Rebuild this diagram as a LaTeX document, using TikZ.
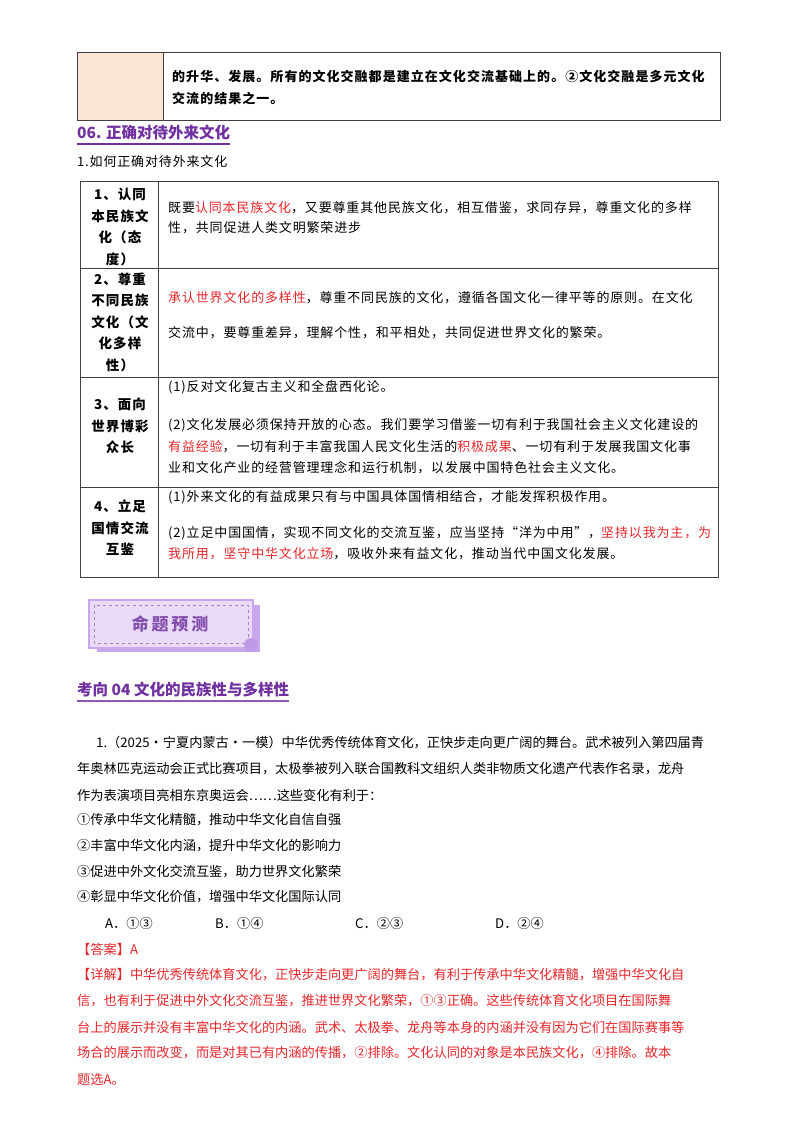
\documentclass[tikz,border=0pt]{standalone}
\usepackage{fontspec}
\setmainfont{Noto Sans CJK SC}
\usepackage{xcolor}
\definecolor{pur}{HTML}{7030A0}
\definecolor{rd}{HTML}{E8262A}
\definecolor{peach}{HTML}{FCE4D6}
\definecolor{lav}{HTML}{C9A6EE}
\begin{document}
\begin{tikzpicture}[x=1pt,y=-1pt,
  tx/.style={anchor=west,inner sep=0pt,font=\fontsize{13}{15}\selectfont\addfontfeature{LetterSpace=6.5}},
  bt/.style={anchor=west,inner sep=0pt,font=\fontsize{13}{15}\bfseries\addfontfeature{LetterSpace=8}},
  lb/.style={align=center,inner sep=0pt,font=\fontsize{13.5}{21.5}\selectfont\bfseries\addfontfeature{LetterSpace=8}},
  qt/.style={anchor=west,inner sep=0pt,font=\fontsize{13.2}{16}\selectfont},
  hd/.style={anchor=west,inner sep=0pt,font=\fontsize{15.5}{17}\selectfont\bfseries,text=pur},
  grid/.style={draw=black!75,line width=0.8pt}]
\useasboundingbox (0,0) rectangle (800,1134);
\fill[white] (0,0) rectangle (800,1134);
% top table
\fill[peach] (77,52) rectangle (163,120);
\draw[grid] (77,52) rectangle (720,120);
\draw[grid] (163,52) -- (163,120);
\node[bt] (t1) at (172,77) {的升华、发展。所有的文化交融都是建立在文化交流基础上的。②文化交融是多元文化};
\node[bt] (t2) at (172,98) {交流的结果之一。};
% heading
\node[hd] (h1) at (77,133) {06. 正确对待外来文化};
\draw[pur,line width=1.2pt] (77,144) -- (h1.east |- 0,144);
\node[tx] (s1) at (77,162) {1.如何正确对待外来文化};
% table 2
\draw[grid] (80,181) rectangle (718,577);
\draw[grid] (158,181) -- (158,577);
\foreach \y in {268,377,487} \draw[grid] (80,\y) -- (718,\y);
\node[lb] (l1) at (120,227) {1、认同\\本民族文\\化（态\\度）};
\node[tx] (r11) at (168,208) {既要\textcolor{rd}{认同本民族文化}，又要尊重其他民族文化，相互借鉴，求同存异，尊重文化的多样};
\node[tx] (r12) at (168,228) {性，共同促进人类文明繁荣进步};
\node[lb] (l2) at (120,322) {2、尊重\\不同民族\\文化（文\\化多样\\性）};
\node[tx] (r21) at (168,298) {\textcolor{rd}{承认世界文化的多样性}，尊重不同民族的文化，遵循各国文化一律平等的原则。在文化};
\node[tx] (r22) at (168,333) {交流中，要尊重差异，理解个性，和平相处，共同促进世界文化的繁荣。};
\node[lb] (l3) at (120,426) {3、面向\\世界博彩\\众长};
\node[tx] (r31) at (168,387) {(1)反对文化复古主义和全盘西化论。};
\node[tx] (r32) at (168,425) {(2)文化发展必须保持开放的心态。我们要学习借鉴一切有利于我国社会主义文化建设的};
\node[tx] (r33) at (168,447) {\textcolor{rd}{有益经验}，一切有利于丰富我国人民文化生活的\textcolor{rd}{积极成果}、一切有利于发展我国文化事};
\node[tx] (r34) at (168,468) {业和文化产业的经营管理理念和运行机制，以发展中国特色社会主义文化。};
\node[lb] (l4) at (120,528) {4、立足\\国情交流\\互鉴};
\node[tx] (r41) at (168,497) {(1)外来文化的有益成果只有与中国具体国情相结合，才能发挥积极作用。};
\node[tx] (r42) at (168,533) {(2)立足中国国情，实现不同文化的交流互鉴，应当坚持“洋为中用”，\textcolor{rd}{坚持以我为主，为}};
\node[tx] (r43) at (168,554) {\textcolor{rd}{我所用，坚守中华文化立场}，吸收外来有益文化，推动当代中国文化发展。};
% banner
\fill[lav] (97,605) rectangle (260,652);
\fill[lav!40] (89,600) rectangle (253,648);
\draw[lav,line width=1.5pt] (89,600) rectangle (253,648);
\draw[lav!80!black,dashed,line width=0.4pt] (94,605) rectangle (248,643);
\fill[lav!90!pur] (251,645) circle (7);
\node[inner sep=0pt,font=\fontsize{17}{19}\selectfont\bfseries,text=pur!85] (bn) at (170,624) {命\,题\,预\,测};
% heading 2
\node[hd] (h2) at (77,690) {考向 04 文化的民族性与多样性};
\draw[pur!80,line width=1.5pt] (77,701) -- (h2.east |- 0,701);
% question
\node[qt] (q1) at (96,743) {1.（2025·宁夏内蒙古·一模）中华优秀传统体育文化，正快步走向更广阔的舞台。武术被列入第四届青};
\node[qt] (q2) at (77,769) {年奥林匹克运动会正式比赛项目，太极拳被列入联合国教科文组织人类非物质文化遗产代表作名录，龙舟};
\node[qt] (q3) at (77,795) {作为表演项目亮相东京奥运会……这些变化有利于：};
\node[qt] (q4) at (77,820) {①传承中华文化精髓，推动中华文化自信自强};
\node[qt] (q5) at (77,846) {②丰富中华文化内涵，提升中华文化的影响力};
\node[qt] (q6) at (77,872) {③促进中外文化交流互鉴，助力世界文化繁荣};
\node[qt] (q7) at (77,897) {④彰显中华文化价值，增强中华文化国际认同};
\node[qt] (oA) at (105,923) {A．①③};
\node[qt] (oB) at (215,923) {B．①④};
\node[qt] (oC) at (355,923) {C．②③};
\node[qt] (oD) at (495,923) {D．②④};
\node[qt,text=rd] (an) at (77,949) {【答案】A};
\node[qt,text=rd] (d1) at (77,975) {【详解】中华优秀传统体育文化，正快步走向更广阔的舞台，有利于传承中华文化精髓，增强中华文化自};
\node[qt,text=rd] (d2) at (77,1001) {信，也有利于促进中外文化交流互鉴，推进世界文化繁荣，①③正确。这些传统体育文化项目在国际舞};
\node[qt,text=rd] (d3) at (77,1027) {台上的展示并没有丰富中华文化的内涵。武术、太极拳、龙舟等本身的内涵并没有因为它们在国际赛事等};
\node[qt,text=rd] (d4) at (77,1053) {场合的展示而改变，而是对其已有内涵的传播，②排除。文化认同的对象是本民族文化，④排除。故本};
\node[qt,text=rd] (d5) at (77,1079) {题选A。};
\end{tikzpicture}
\end{document}
